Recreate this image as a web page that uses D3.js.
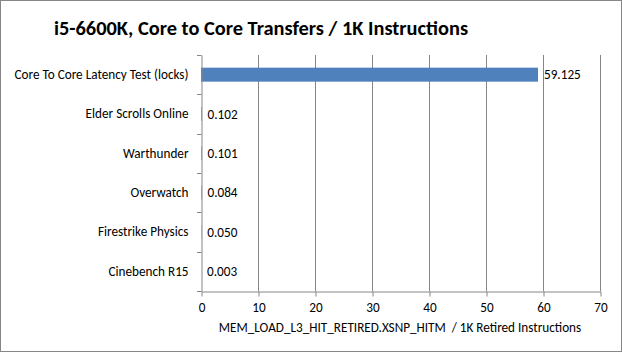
<!DOCTYPE html>
<html><head><meta charset="utf-8">
<script src="https://cdn.jsdelivr.net/npm/d3@7"></script>
<style>body{margin:0;background:#fff}svg{display:block}</style>
</head><body><svg id="c" width="622" height="352"></svg>
<script>
const categories = ["Core To Core Latency Test (locks)","Elder Scrolls Online","Warthunder","Overwatch","Firestrike Physics","Cinebench R15"];
const values = [59.125,0.102,0.101,0.084,0.050,0.003];
const labels = ["59.125","0.102","0.101","0.084","0.050","0.003"];
const xTicks = [0,10,20,30,40,50,60,70];
const title = "i5-6600K, Core to Core Transfers / 1K Instructions";
const xTitle = "MEM_LOAD_L3_HIT_RETIRED.XSNP_HITM  / 1K Retired Instructions";

const svg = d3.select("#c");
const font = "Carlito, 'Liberation Sans', Arial, sans-serif";
const fs = 13.2;
svg.append("rect").attr("x",0.5).attr("y",0.5).attr("width",621).attr("height",351).attr("fill","#fff").attr("stroke","#868686");
const L=201,R=600,T=55,B=291;
const x=d3.scaleLinear().domain([0,70]).range([L,R]);
const y=d3.scaleBand().domain(categories).range([T,B]);

svg.append("text").attr("x",261).attr("y",35).attr("text-anchor","middle")
 .attr("font-family",font).attr("font-weight","bold").attr("font-size",20.4).attr("fill","#000").text(title);

// gridlines
svg.append("g").selectAll("line").data(xTicks.slice(1)).join("line")
 .attr("x1",d=>x(d)+0.5).attr("x2",d=>x(d)+0.5).attr("y1",T).attr("y2",B)
 .attr("stroke","#868686").attr("stroke-width",1);

// bars
svg.append("g").selectAll("rect").data(values).join("rect")
 .attr("x",x(0)).attr("y",(d,i)=>y(categories[i])+y.bandwidth()/2-7)
 .attr("width",d=>x(d)-x(0)).attr("height",14).attr("fill","#4f81bd");

// y axis
const ya=d3.axisLeft(y).tickSize(0).tickPadding(13);
const yg=svg.append("g").attr("transform",`translate(${L+0.5},0)`).call(ya);
yg.select(".domain").attr("stroke","#868686");
yg.selectAll("text").attr("font-family",font).attr("font-size",fs).attr("fill","#000");
// category separator ticks
svg.append("g").selectAll("line").data(d3.range(categories.length+1)).join("line")
 .attr("x1",L-4).attr("x2",L+0.5).attr("y1",i=>Math.round(T+i*y.step())+0.5).attr("y2",i=>Math.round(T+i*y.step())+0.5)
 .attr("stroke","#868686");

// x axis
const xa=d3.axisBottom(x).tickValues(xTicks).tickSize(5).tickPadding(6).tickSizeOuter(0);
const xg=svg.append("g").attr("transform",`translate(0.5,${B+0.5})`).call(xa);
xg.select(".domain").attr("stroke","#868686");
xg.selectAll("line").attr("stroke","#868686");
xg.selectAll("text").attr("font-family",font).attr("font-size",fs).attr("fill","#000");

// data labels
svg.append("g").selectAll("text").data(values).join("text")
 .attr("x",d=>x(d)+6).attr("y",(d,i)=>y(categories[i])+y.bandwidth()/2+4.5)
 .attr("font-family",font).attr("font-size",fs).attr("fill","#000").text((d,i)=>labels[i]);

svg.append("text").attr("x",400).attr("y",332).attr("text-anchor","middle")
 .attr("font-family",font).attr("font-size",fs).attr("fill","#000").style("white-space","pre").text(xTitle);
</script></body></html>
